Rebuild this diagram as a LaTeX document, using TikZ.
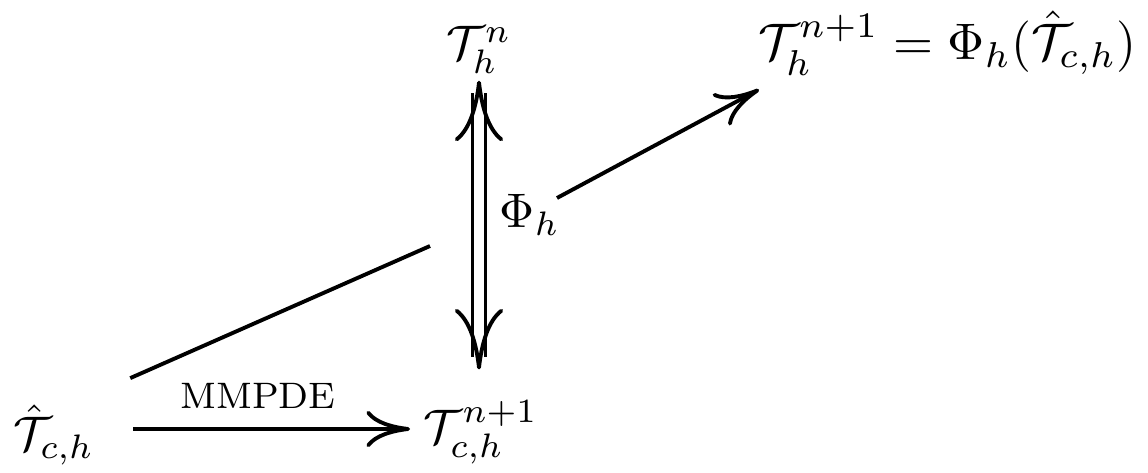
\documentclass[tikz,border=0pt]{standalone}
\usepackage{amsmath,amssymb}
\usepackage{tikz}
\usetikzlibrary{arrows.meta}

\begin{document}
\begin{tikzpicture}[x=0.2062pt, y=-0.2062pt, line width=0.8pt,
  >={Computer Modern Rightarrow[length=9pt,width=7.5pt]},
  obj/.style={inner sep=0pt},
  dbl/.style={double, double distance=1.9pt, shorten <=2.6pt, shorten >=2.6pt},
  dbltip/.style={-{Computer Modern Rightarrow[length=12.5pt,width=10pt]}}]
  \useasboundingbox (0,0) rectangle (1148,473);
  \node[obj, anchor=base] (Tn) at (479,60) {$\mathcal{T}_h^n$};
  \node[obj, anchor=base west, scale=1.06] (Tnp) at (756,60) {$\mathcal{T}_h^{n+1}=\Phi_h(\hat{\mathcal{T}}_{c,h})$};
  \node[obj, anchor=base west] (hat) at (12,451) {$\hat{\mathcal{T}}_{c,h}$};
  \node[obj, anchor=base west] (Tc) at (422,443) {$\mathcal{T}_{c,h}^{n+1}$};
  \node[obj, anchor=base west] (phi) at (498,228) {$\Phi_h$};
  \coordinate (gapA) at (430,246);
  \coordinate (gapB) at (557,198);
  % lower map
  \draw[->] ([shift={(37,0)}]hat.east |- 0,429) -- ([shift={(-12,0)}]Tc.west |- 0,429)
    node[pos=0.45, above=3.8pt, inner sep=0pt, font=\fontsize{7.6}{9}\selectfont] {MMPDE};
  % diagonal, broken where it passes the double arrow
  \draw ([shift={(34,-25)}]hat.north east) -- (gapA);
  \draw[->] (gapB) -- ([shift={(3,12)}]Tnp.south west);
  % double arrow, heads drawn on their own
  \draw[dbl] ([shift={(0,5)}]Tn.south) -- ([shift={(0,-29)}]Tn.south |- Tc.north);
  \draw[dbltip] ([shift={(0,13)}]Tn.south) -- ([shift={(0,5)}]Tn.south);
  \draw[dbltip] ([shift={(0,-37)}]Tn.south |- Tc.north) -- ([shift={(0,-29)}]Tn.south |- Tc.north);
\end{tikzpicture}
\end{document}
